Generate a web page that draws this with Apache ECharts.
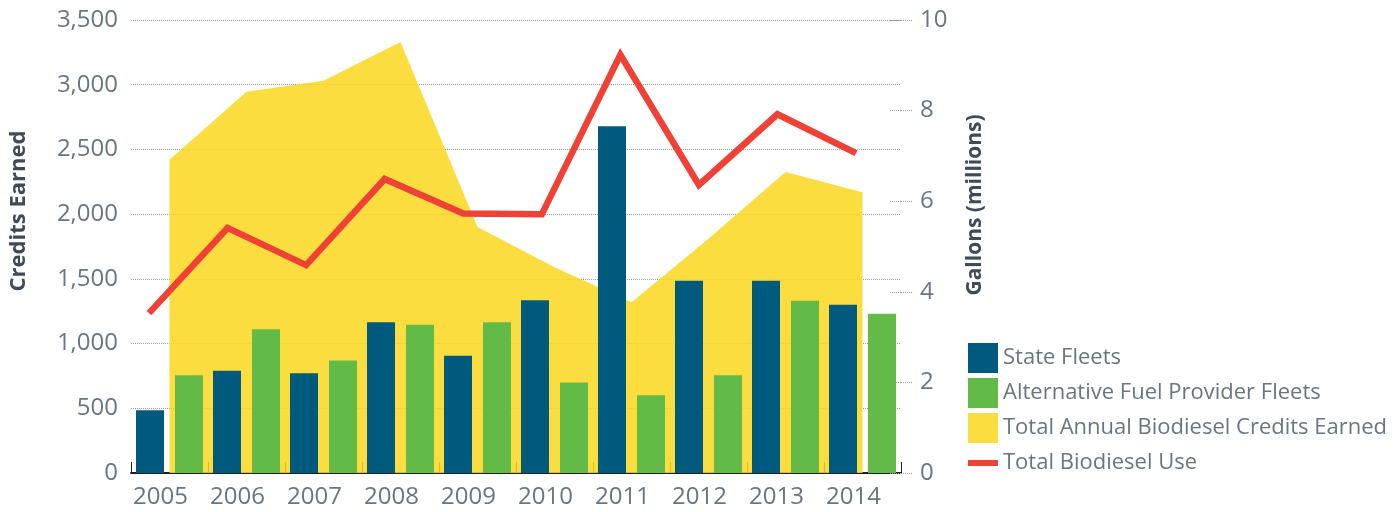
<!DOCTYPE html>
<html><head><meta charset="utf-8">
<script src="https://cdn.jsdelivr.net/npm/echarts@6/dist/echarts.min.js"></script>
<style>html,body{margin:0;padding:0;background:#fff}#c{width:1398px;height:512px}</style>
</head><body><div id="c"></div>
<script>
const years = ['2005','2006','2007','2008','2009','2010','2011','2012','2013','2014'];
const stateFleets = [485, 790, 770, 1165, 905, 1335, 2680, 1485, 1485, 1300];
const afpFleets = [755, 1110, 870, 1145, 1165, 700, 600, 755, 1330, 1230];
const totalCredits = [2420, 2945, 3030, 3330, 1900, 1590, 1320, 1810, 2325, 2170];
const biodieselUse = [3.53, 5.41, 4.59, 6.49, 5.73, 5.71, 9.23, 6.36, 7.92, 7.06];
const seriesNames = ['State Fleets', 'Alternative Fuel Provider Fleets', 'Total Annual Biodiesel Credits Earned', 'Total Biodiesel Use'];

const FONT = "'Open Sans', sans-serif";
const LABEL = '#6B7580';
const chart = echarts.init(document.getElementById('c'), null, {renderer: 'canvas'});
const lineIcon = 'path://M0,0 L0.01,0 L0.01,0.01 Z M0,12 L30,12 L30,18 L0,18 Z M29.99,30 L30,30 L30,29.99 Z';

chart.setOption({
  animation: false,
  textStyle: {fontFamily: FONT},
  grid: [
    {left: 129, right: 497, top: 20, bottom: 39},
    {left: 149, right: 542, top: 20, bottom: 39}
  ],
  legend: {
    orient: 'vertical', left: 968, top: 343, padding: 0,
    itemWidth: 30, itemHeight: 30, itemGap: 5,
    textStyle: {color: LABEL, fontSize: 22, fontFamily: FONT},
    data: [
      {name: seriesNames[0], icon: 'rect'},
      {name: seriesNames[1], icon: 'rect'},
      {name: seriesNames[2], icon: 'rect'},
      {name: seriesNames[3], icon: lineIcon}
    ]
  },
  xAxis: [
    {
      type: 'category', gridIndex: 0, data: years, boundaryGap: true,
      axisLine: {lineStyle: {color: '#231F20', width: 2}},
      axisTick: {show: true, inside: true, length: 11, lineStyle: {color: '#231F20', width: 1}},
      axisLabel: {color: LABEL, fontSize: 24, fontFamily: FONT, margin: 12, padding: [0, 18, 0, 0]}
    },
    {type: 'category', gridIndex: 1, data: years, boundaryGap: false, show: false}
  ],
  yAxis: [
    {
      type: 'value', gridIndex: 0, min: 0, max: 3500, interval: 500,
      name: 'Credits Earned', nameLocation: 'middle', nameRotate: 90, nameGap: 101,
      nameTextStyle: {color: '#3E4B58', fontSize: 22, fontWeight: 'bold', fontFamily: FONT, padding: [0, 0, 0, 71]},
      axisLine: {show: false}, axisTick: {show: false},
      axisLabel: {color: LABEL, fontSize: 24, fontFamily: FONT, margin: 13,
        formatter: v => v.toLocaleString('en-US')},
      splitLine: {show: true, lineStyle: {color: '#9A9A9A', type: 'dotted', width: 1}}
    },
    {
      type: 'value', gridIndex: 0, position: 'right', min: 0, max: 10, interval: 2,
      name: 'Gallons (millions)', nameLocation: 'middle', nameRotate: 90, nameGap: 64,
      nameTextStyle: {color: '#3E4B58', fontSize: 21, fontWeight: 'bold', fontFamily: FONT, padding: [0, 0, 0, 83]},
      axisLine: {show: false},
      axisTick: {show: true, length: 12, lineStyle: {color: '#9A9A9A', type: 'dotted', width: 1}},
      axisLabel: {color: LABEL, fontSize: 24, fontFamily: FONT, margin: 19},
      splitLine: {show: false}
    },
    {
      type: 'value', gridIndex: 0, position: 'right', min: 0, max: 10, interval: 2,
      axisLine: {show: false}, axisLabel: {show: false}, splitLine: {show: false},
      axisTick: {show: true, inside: true, length: 12, lineStyle: {color: '#9A9A9A', type: 'dotted', width: 1}}
    },
    {type: 'value', gridIndex: 1, min: 0, max: 10, interval: 2, show: false}
  ],
  series: [
    {
      name: seriesNames[2], type: 'line', xAxisIndex: 0, yAxisIndex: 0, data: totalCredits,
      symbol: 'none', lineStyle: {width: 0}, z: 1,
      itemStyle: {color: '#FCDD40'},
      areaStyle: {color: 'rgb(251,215,30)', opacity: 0.85},
      emphasis: {disabled: true}
    },
    {
      name: seriesNames[0], type: 'bar', xAxisIndex: 0, yAxisIndex: 0, data: stateFleets, z: 3,
      barWidth: 28, barGap: '39.3%', itemStyle: {color: '#005A7D'}
    },
    {
      name: seriesNames[1], type: 'bar', xAxisIndex: 0, yAxisIndex: 0, data: afpFleets, z: 3,
      barWidth: 28, barGap: '39.3%', itemStyle: {color: '#62BB46'}
    },
    {
      name: seriesNames[3], type: 'line', xAxisIndex: 1, yAxisIndex: 3, data: biodieselUse,
      symbol: 'none', itemStyle: {color: '#EF4136'},
      lineStyle: {color: '#EF4136', width: 6.5, join: 'miter', cap: 'butt'},
      z: 5
    }
  ]
});
</script></body></html>
